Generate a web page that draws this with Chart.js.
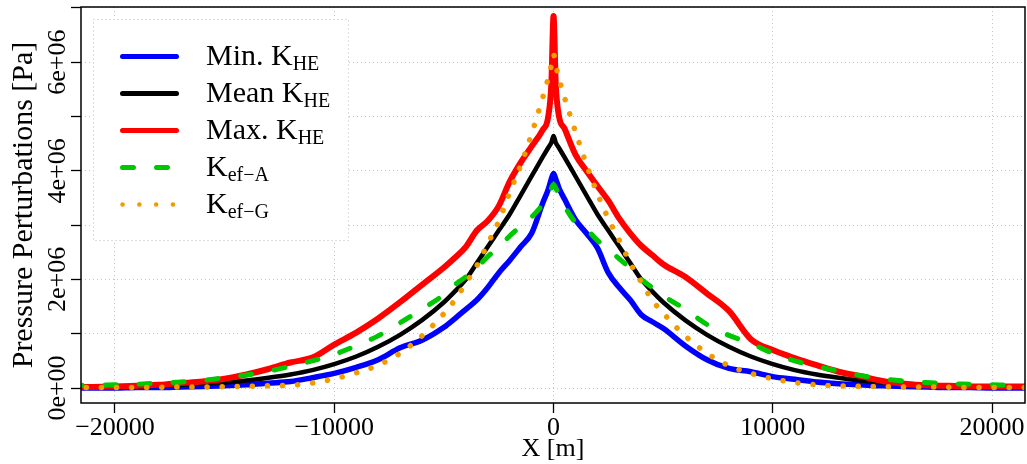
<!DOCTYPE html>
<html>
<head>
<meta charset="utf-8">
<script src="https://cdn.jsdelivr.net/npm/chart.js@4.4.1/dist/chart.umd.min.js"></script>
<style>
  html, body { margin: 0; padding: 0; background: #fff; }
  #wrap { width: 1027px; height: 464px; }
</style>
</head>
<body>
<div id="wrap"><canvas id="chart" width="1027" height="464"></canvas></div>
<script>
// X positions [m] shared by all series
const xPos = [-22000, -21000, -20000, -19000, -18000, -17000, -16000, -15000, -14000, -13000,
  -12000, -11000, -10000, -9000, -8000, -7000, -6000, -5000, -4500, -4000,
  -3500, -3000, -2500, -2000, -1500, -1000, -500, -250, -100, 0,
  100, 250, 500, 1000, 1500, 2000, 2500, 3000, 3500, 4000,
  4500, 5000, 6000, 7000, 8000, 9000, 10000, 11000, 12000, 13000,
  14000, 15000, 16000, 17000, 18000, 19000, 20000, 21000, 22000];

// pressure perturbations, in units of 1e6 Pa
const minKhe = [0, 0, 0, 0.01, 0.01, 0.02, 0.03, 0.04, 0.06, 0.09,
  0.12, 0.19, 0.27, 0.38, 0.52, 0.74, 0.88, 1.12, 1.28, 1.45,
  1.62, 1.85, 2.12, 2.35, 2.6, 2.85, 3.4, 3.65, 3.85, 3.95,
  3.85, 3.68, 3.48, 3.1, 2.85, 2.58, 2.12, 1.85, 1.62, 1.35,
  1.22, 1.1, 0.78, 0.52, 0.36, 0.3, 0.21, 0.16, 0.11, 0.08,
  0.06, 0.04, 0.03, 0.02, 0.01, 0.01, 0, 0, 0];
const meanKhe = [0.01, 0.015, 0.02, 0.03, 0.04, 0.06, 0.08, 0.1, 0.14, 0.19,
  0.25, 0.33, 0.44, 0.58, 0.76, 0.98, 1.25, 1.58, 1.78, 2.0,
  2.3, 2.6, 2.9, 3.2, 3.55, 3.9, 4.25, 4.42, 4.52, 4.64,
  4.52, 4.42, 4.25, 3.9, 3.55, 3.2, 2.9, 2.6, 2.3, 2.0,
  1.78, 1.58, 1.25, 0.98, 0.76, 0.58, 0.44, 0.33, 0.25, 0.19,
  0.14, 0.1, 0.08, 0.06, 0.04, 0.03, 0.02, 0.015, 0.01];
const maxKhe = [0.02, 0.02, 0.03, 0.04, 0.06, 0.09, 0.12, 0.17, 0.25, 0.35,
  0.47, 0.56, 0.8, 1.02, 1.28, 1.58, 1.9, 2.22, 2.4, 2.6,
  2.9, 3.08, 3.35, 3.8, 4.15, 4.45, 4.75, 4.98, 5.6, 6.85,
  5.6, 5.0, 4.78, 4.3, 4.0, 3.72, 3.45, 3.12, 2.85, 2.62,
  2.45, 2.28, 2.05, 1.74, 1.42, 0.9, 0.7, 0.55, 0.42, 0.3,
  0.22, 0.13, 0.08, 0.05, 0.04, 0.03, 0.03, 0.03, 0.03];
const kefA = [0.05, 0.05, 0.06, 0.07, 0.09, 0.11, 0.14, 0.19, 0.24, 0.31,
  0.4, 0.5, 0.62, 0.78, 0.96, 1.2, 1.45, 1.72, 1.9, 2.05,
  2.22, 2.42, 2.6, 2.8, 2.98, 3.15, 3.38, 3.55, 3.68, 3.75,
  3.68, 3.55, 3.35, 3.05, 2.92, 2.72, 2.55, 2.38, 2.2, 2.0,
  1.85, 1.7, 1.45, 1.17, 0.97, 0.82, 0.64, 0.5, 0.4, 0.31,
  0.23, 0.17, 0.13, 0.1, 0.08, 0.07, 0.06, 0.05, 0.05];
const kefG = [0.01, 0.01, 0.01, 0.01, 0.015, 0.02, 0.02, 0.025, 0.03, 0.04,
  0.05, 0.09, 0.17, 0.28, 0.42, 0.64, 0.96, 1.37, 1.62, 1.93,
  2.25, 2.66, 3.07, 3.6, 4.1, 4.68, 5.34, 5.7, 5.95, 6.15,
  5.95, 5.7, 5.35, 4.72, 4.12, 3.58, 3.12, 2.72, 2.3, 1.95,
  1.62, 1.38, 0.96, 0.64, 0.41, 0.27, 0.17, 0.1, 0.06, 0.04,
  0.03, 0.025, 0.02, 0.02, 0.015, 0.01, 0.01, 0.01, 0.01];

const xTicks = [-20000, -10000, 0, 10000, 20000];
const xTickLabels = ['\u221220000', '\u221210000', '0', '10000', '20000'];
const yTicks = [0, 1e6, 2e6, 3e6, 4e6, 5e6, 6e6, 7e6];
const yLabelValues = [0, 2e6, 4e6, 6e6];
const yTickLabels = ['0e+00', '2e+06', '4e+06', '6e+06'];

const legendMain = ['Min. K', 'Mean K', 'Max. K', 'K', 'K'];
const legendSub = ['HE', 'HE', 'HE', 'ef\u2212A', 'ef\u2212G'];

const FONT = '"Liberation Serif", "Times New Roman", serif';
const COLORS = ['#0000ff', '#000000', '#ff0000', '#00c800', '#f29b00'];
const WIDTHS = [5.5, 4.5, 6, 5, 5.5];
const DASHES = [[], [], [], [11, 23], [0.1, 15]];

function toPoints(vals) {
  return xPos.map((x, i) => ({ x: x, y: vals[i] * 1e6 }));
}

const series = [minKhe, meanKhe, maxKhe, kefA, kefG];
const datasets = series.map((vals, i) => ({
  label: legendMain[i] + legendSub[i],
  data: toPoints(vals),
  borderColor: COLORS[i],
  borderWidth: WIDTHS[i],
  borderDash: DASHES[i],
  borderCapStyle: 'round',
  borderJoinStyle: 'round',
  pointRadius: 0,
  fill: false,
  cubicInterpolationMode: 'monotone',
  order: 5 - i   // later series drawn on top, like R
}));

// R-style frame, tick labels, titles and legend
const rPlot = {
  id: 'rPlot',
  afterDraw(chart) {
    const ctx = chart.ctx;
    const a = chart.chartArea;
    const xs = chart.scales.x, ys = chart.scales.y;
    ctx.save();

    // legend box
    ctx.fillStyle = '#fff';
    ctx.fillRect(93, 19, 256, 222);
    ctx.setLineDash([1, 3]);
    ctx.strokeStyle = '#bdbdbd';
    ctx.lineWidth = 1;
    ctx.strokeRect(93.5, 19.5, 255, 221);
    for (let i = 0; i < legendMain.length; i++) {
      const y = 56.5 + i * 37;
      ctx.beginPath();
      ctx.setLineDash(i === 4 ? [0.1, 16.7] : DASHES[i]);
      ctx.lineCap = 'round';
      ctx.strokeStyle = COLORS[i];
      ctx.lineWidth = i === 4 ? 4.5 : 5;
      ctx.moveTo(122.5, y);
      ctx.lineTo(176.5, y);
      ctx.stroke();
      ctx.fillStyle = '#000';
      ctx.textAlign = 'left';
      ctx.textBaseline = 'alphabetic';
      ctx.font = '30px ' + FONT;
      ctx.fillText(legendMain[i], 206, y + 8);
      const w = ctx.measureText(legendMain[i]).width;
      ctx.font = '20px ' + FONT;
      ctx.fillText(legendSub[i], 206 + w, y + 13);
    }

    // frame
    ctx.setLineDash([]);
    ctx.strokeStyle = '#000';
    ctx.lineWidth = 1.5;
    ctx.strokeRect(a.left, a.top, a.right - a.left, a.bottom - a.top);

    ctx.fillStyle = '#000';
    ctx.font = '26px ' + FONT;
    ctx.textBaseline = 'alphabetic';
    ctx.textAlign = 'center';
    xTicks.forEach((v, i) => {
      ctx.fillText(xTickLabels[i], xs.getPixelForValue(v), 435);
    });
    yLabelValues.forEach((v, i) => {
      ctx.save();
      ctx.translate(65, ys.getPixelForValue(v));
      ctx.rotate(-Math.PI / 2);
      ctx.fillText(yTickLabels[i], 0, 0);
      ctx.restore();
    });

    ctx.fillText('X [m]', (a.left + a.right) / 2, 456);
    ctx.save();
    ctx.font = '30px ' + FONT;
    ctx.translate(32, (a.top + a.bottom) / 2);
    ctx.rotate(-Math.PI / 2);
    ctx.fillText('Pressure Perturbations [Pa]', 0, 0);
    ctx.restore();

    ctx.restore();
  }
};

const gridStyle = {
  color: '#c4c4c4',
  lineWidth: 1,
  tickLength: 10,
  tickColor: '#000',
  tickWidth: 1.3,
  borderDash: [1, 3]
};

new Chart(document.getElementById('chart').getContext('2d'), {
  type: 'line',
  data: { datasets },
  options: {
    responsive: false,
    animation: false,
    events: [],
    layout: { padding: { top: 7, right: 2, left: 0, bottom: 0 } },
    plugins: { legend: { display: false }, tooltip: { enabled: false } },
    scales: {
      x: {
        type: 'linear',
        min: -21550,
        max: 21500,
        afterBuildTicks: s => { s.ticks = xTicks.map(v => ({ value: v })); },
        afterFit: s => { s.height = 61; },
        ticks: { display: false },
        grid: gridStyle,
        border: { display: false, dash: [1, 3] }
      },
      y: {
        type: 'linear',
        min: -0.276e6,
        max: 7.017e6,
        afterBuildTicks: s => { s.ticks = yTicks.map(v => ({ value: v })); },
        afterFit: s => { s.width = 81; },
        ticks: { display: false },
        grid: gridStyle,
        border: { display: false, dash: [1, 3] }
      }
    }
  },
  plugins: [rPlot]
});
</script>
</body>
</html>
